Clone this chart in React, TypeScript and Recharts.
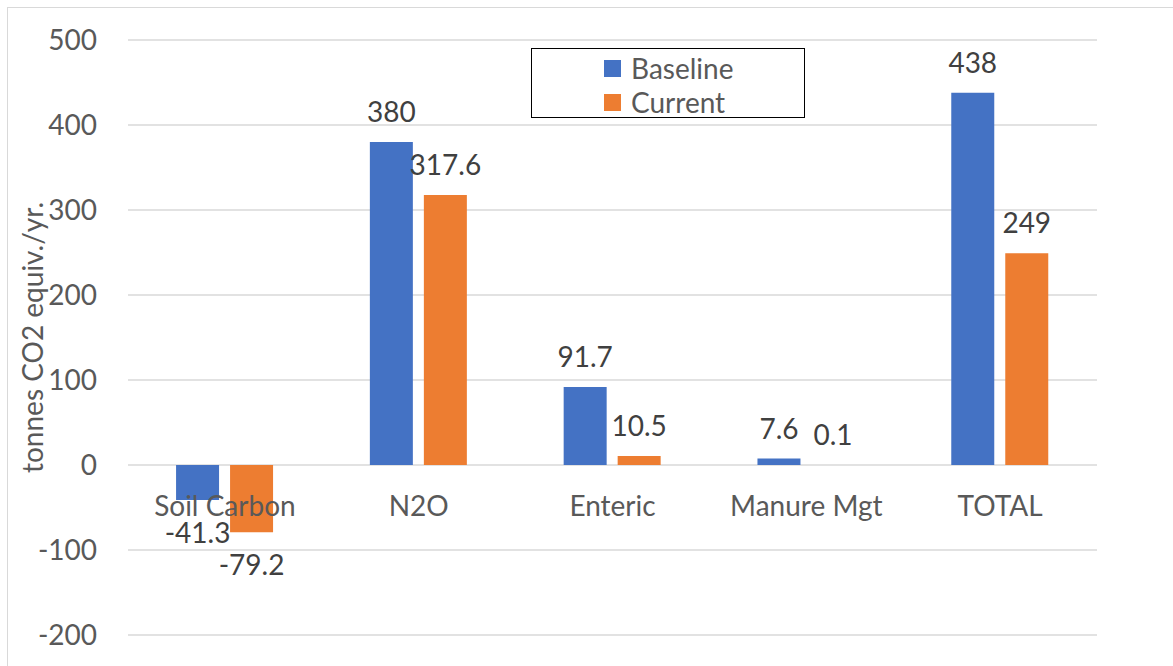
import { BarChart, Bar, XAxis, YAxis, CartesianGrid, Legend, LabelList } from "recharts";

const categories = ["Soil Carbon", "N2O", "Enteric", "Manure Mgt", "TOTAL"];
const baseline = [-41.3, 380, 91.7, 7.6, 438];
const current = [-79.2, 317.6, 10.5, 0.1, 249];
const yTicks = [-200, -100, 0, 100, 200, 300, 400, 500];

const data = categories.map((name, i) => ({
  name,
  Baseline: baseline[i],
  Current: current[i],
}));

const W = 1173;
const H = 666;
const TOP = 40;
const BOTTOM = 31;
const Y_MIN = -200;
const Y_MAX = 500;
const PLOT_H = H - TOP - BOTTOM;
const ZERO_Y = TOP + (PLOT_H * Y_MAX) / (Y_MAX - Y_MIN);
const FONT = "Lato, 'Open Sans', sans-serif";

const CategoryTick = (props: any) => {
  const { x, payload } = props;
  return (
    <text x={x} y={ZERO_Y + 51} textAnchor="middle" fill="#595959" fontSize={28} fontFamily={FONT}>
      {payload.value}
    </text>
  );
};

const ValueLabel = (props: any) => {
  const { x, y, width, height, value } = props;
  const top = Math.min(y, y + height);
  const bottom = Math.max(y, y + height);
  const ty = value >= 0 ? top - 20 : bottom + 43;
  return (
    <text x={x + width / 2} y={ty} textAnchor="middle" fill="#404040" fontSize={28} fontFamily={FONT}>
      {value}
    </text>
  );
};

const YLabel = (props: any) => {
  const { viewBox } = props;
  const cy = viewBox.y + viewBox.height / 2;
  return (
    <text
      x={43}
      y={cy}
      transform={`rotate(-90, 43, ${cy})`}
      textAnchor="middle"
      fill="#595959"
      fontSize={28}
      fontFamily={FONT}
    >
      tonnes CO2 equiv./yr.
    </text>
  );
};

const BoxLegend = (props: any) => {
  const { payload } = props;
  return (
    <div
      style={{
        width: 274,
        height: 70,
        border: "1.5px solid #000",
        background: "#fff",
        boxSizing: "border-box",
        paddingTop: 2,
        paddingLeft: 72,
      }}
    >
      {(payload || []).map((p: any) => (
        <div key={p.value} style={{ display: "flex", alignItems: "center", height: 34 }}>
          <span style={{ width: 17, height: 17, background: p.color, marginRight: 10 }} />
          <span style={{ fontFamily: FONT, fontSize: 28, color: "#595959", lineHeight: "34px" }}>{p.value}</span>
        </div>
      ))}
    </div>
  );
};

export default function App() {
  return (
    <div style={{ position: "relative", width: W, height: H, overflow: "hidden", background: "#fff" }}>
      <style>{`body{margin:0}`}</style>
      <div
        style={{
          position: "absolute",
          left: 7,
          top: 7,
          width: W,
          height: H,
          borderTop: "1.5px solid #d9d9d9",
          borderLeft: "1.5px solid #d9d9d9",
        }}
      />
      <BarChart
        width={W}
        height={H}
        data={data}
        margin={{ top: TOP, right: 76, left: 0, bottom: 1 }}
        barCategoryGap="24.8%"
        barGap={11}
        style={{ position: "absolute", left: 0, top: 0 }}
      >
        <CartesianGrid vertical={false} stroke="#d9d9d9" strokeWidth={1.5} />
        <XAxis
          dataKey="name"
          height={30}
          axisLine={false}
          tickLine={false}
          tick={<CategoryTick />}
          interval={0}
        />
        <YAxis
          width={128}
          domain={[Y_MIN, Y_MAX]}
          ticks={yTicks}
          axisLine={false}
          tickLine={false}
          tickSize={0}
          tickMargin={31}
          tick={{ fill: "#595959", fontSize: 28, fontFamily: FONT }}
          label={<YLabel />}
        />
        <Legend
          layout="horizontal"
          verticalAlign="middle"
          align="center"
          content={<BoxLegend />}
          wrapperStyle={{ position: "absolute", left: 531, top: 48, width: 274, height: 70 }}
        />
        <Bar dataKey="Baseline" fill="#4472C4" isAnimationActive={false}>
          <LabelList dataKey="Baseline" content={<ValueLabel />} />
        </Bar>
        <Bar dataKey="Current" fill="#ED7D31" isAnimationActive={false}>
          <LabelList dataKey="Current" content={<ValueLabel />} />
        </Bar>
      </BarChart>
    </div>
  );
}
